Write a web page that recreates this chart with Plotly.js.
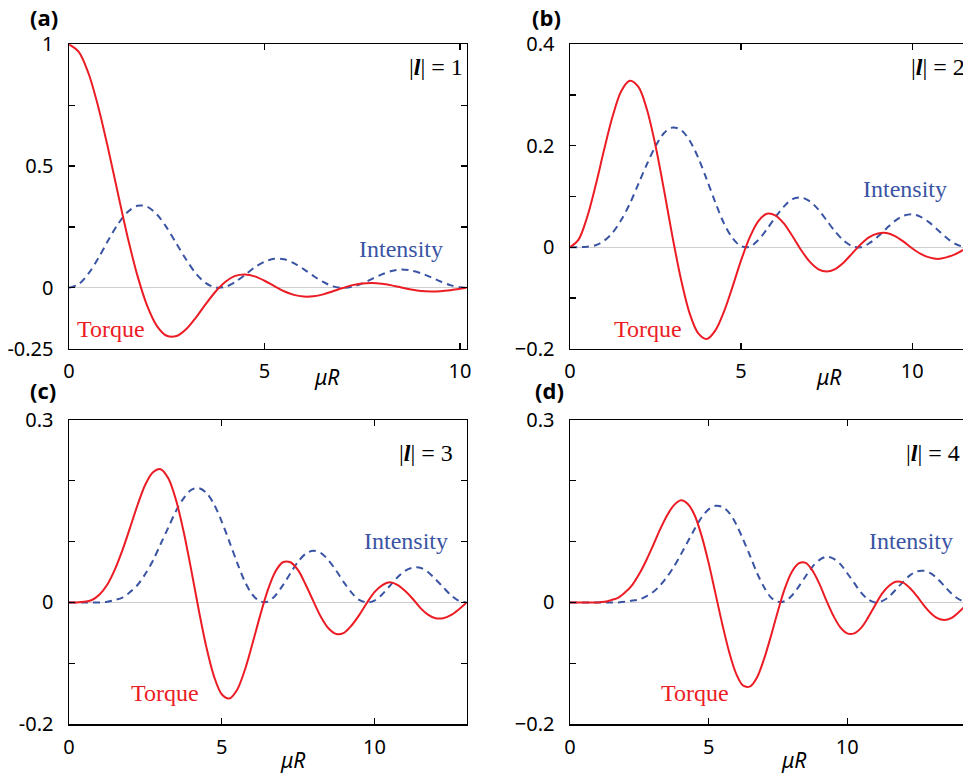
<!DOCTYPE html>
<html>
<head>
<meta charset="utf-8">
<script src="https://cdn.plot.ly/plotly-3.0.1.min.js"></script>
<style>html,body{margin:0;padding:0;background:#fff;overflow:hidden;width:963px;height:779px;}#chart{width:972px;height:779px;}</style>
</head>
<body>
<div id="chart"></div>
<script>
// ---------- data ----------
// (a) |l| = 1
const xA = [0,0.25,0.5,0.75,1,1.25,1.5,1.75,2,2.25,2.5,2.75,3,3.25,3.5,3.75,4,4.25,4.5,4.75,5,5.25,5.5,5.75,6,6.25,6.5,6.75,7,7.25,7.5,7.75,8,8.25,8.5,8.75,9,9.25,9.5,9.75,10,10.17];
const intensityA = [0,0.015,0.059,0.122,0.194,0.261,0.311,0.337,0.333,0.301,0.247,0.181,0.115,0.058,0.019,0.001,0.004,0.024,0.053,0.084,0.107,0.119,0.117,0.101,0.077,0.049,0.024,0.006,0.000,0.005,0.018,0.037,0.055,0.069,0.075,0.071,0.060,0.044,0.026,0.011,0.002,0];
const torqueA = [1,0.969,0.880,0.742,0.572,0.388,0.208,0.050,-0.074,-0.157,-0.197,-0.198,-0.169,-0.121,-0.066,-0.015,0.025,0.049,0.055,0.047,0.029,0.007,-0.014,-0.029,-0.036,-0.035,-0.027,-0.014,-0.001,0.011,0.018,0.020,0.017,0.010,0.001,-0.007,-0.013,-0.015,-0.014,-0.010,-0.004,0];

// (b) |l| = 2
const xB = [0,0.25,0.5,0.75,1,1.25,1.5,1.75,2,2.25,2.5,2.75,3,3.25,3.5,3.75,4,4.25,4.5,4.75,5,5.25,5.5,5.75,6,6.25,6.5,6.75,7,7.25,7.5,7.75,8,8.25,8.5,8.75,9,9.25,9.5,9.75,10,10.25,10.5,10.75,11,11.25,11.5,11.75];
const intensityB = [0,0.000,0.001,0.004,0.013,0.029,0.054,0.086,0.125,0.164,0.199,0.225,0.236,0.231,0.210,0.176,0.133,0.088,0.047,0.018,0.002,0.001,0.014,0.035,0.059,0.080,0.095,0.098,0.091,0.075,0.053,0.031,0.013,0.002,0.000,0.008,0.021,0.037,0.052,0.062,0.065,0.060,0.049,0.034,0.019,0.007,0.001,0.001];
const torqueB = [0,0.015,0.059,0.122,0.193,0.259,0.308,0.328,0.316,0.271,0.200,0.112,0.019,-0.065,-0.131,-0.170,-0.181,-0.164,-0.127,-0.078,-0.026,0.019,0.051,0.066,0.063,0.047,0.022,-0.005,-0.028,-0.043,-0.048,-0.043,-0.030,-0.012,0.006,0.020,0.027,0.028,0.022,0.011,-0.002,-0.013,-0.020,-0.023,-0.020,-0.014,-0.005,0.005];

// (c) |l| = 3
const xC = [0,0.25,0.5,0.75,1,1.25,1.5,1.75,2,2.25,2.5,2.75,3,3.25,3.5,3.75,4,4.25,4.5,4.75,5,5.25,5.5,5.75,6,6.25,6.5,6.75,7,7.25,7.5,7.75,8,8.25,8.5,8.75,9,9.25,9.5,9.75,10,10.25,10.5,10.75,11,11.25,11.5,11.75,12,12.25,12.5,12.75,13.02];
const intensityC = [0,0,0,0,0,0.001,0.004,0.008,0.017,0.029,0.047,0.069,0.096,0.123,0.150,0.171,0.185,0.188,0.180,0.161,0.133,0.100,0.066,0.035,0.013,0.002,0.001,0.011,0.028,0.048,0.067,0.080,0.085,0.081,0.069,0.052,0.033,0.016,0.004,0.000,0.003,0.013,0.027,0.041,0.052,0.057,0.057,0.050,0.038,0.025,0.012,0.003,0];
const torqueC = [0,0,0.001,0.004,0.013,0.029,0.054,0.086,0.123,0.161,0.194,0.214,0.219,0.204,0.169,0.117,0.054,-0.013,-0.074,-0.122,-0.151,-0.158,-0.144,-0.112,-0.069,-0.023,0.019,0.050,0.066,0.066,0.053,0.029,0.002,-0.024,-0.043,-0.052,-0.050,-0.038,-0.021,-0.001,0.017,0.028,0.033,0.029,0.019,0.006,-0.009,-0.020,-0.026,-0.026,-0.021,-0.012,0];

// (d) |l| = 4
const xD = [0,0.25,0.5,0.75,1,1.25,1.5,1.75,2,2.25,2.5,2.75,3,3.25,3.5,3.75,4,4.25,4.5,4.75,5,5.25,5.5,5.75,6,6.25,6.5,6.75,7,7.25,7.5,7.75,8,8.25,8.5,8.75,9,9.25,9.5,9.75,10,10.25,10.5,10.75,11,11.25,11.5,11.75,12,12.25,12.5,12.75,13,13.25,13.5,13.75,14,14.25,14.5];
const intensityD = [0,0,0,0,0,0,0,0,0.001,0.003,0.005,0.010,0.017,0.028,0.042,0.059,0.079,0.100,0.121,0.140,0.153,0.159,0.157,0.147,0.128,0.103,0.076,0.048,0.025,0.008,0.001,0.002,0.011,0.026,0.043,0.059,0.070,0.075,0.072,0.063,0.048,0.032,0.016,0.005,0.000,0.002,0.009,0.021,0.033,0.044,0.051,0.052,0.048,0.039,0.027,0.015,0.006,0.001,0.001];
const torqueD = [0,0,0,0,0,0.001,0.004,0.008,0.017,0.029,0.047,0.069,0.094,0.120,0.143,0.160,0.168,0.162,0.143,0.109,0.065,0.014,-0.037,-0.083,-0.118,-0.137,-0.138,-0.123,-0.093,-0.055,-0.014,0.023,0.050,0.064,0.065,0.052,0.030,0.003,-0.022,-0.041,-0.051,-0.051,-0.042,-0.025,-0.005,0.014,0.027,0.034,0.033,0.024,0.011,-0.004,-0.017,-0.026,-0.029,-0.026,-0.017,-0.006,0.006];

// tick labels and texts
const xTickVals = [0,5,10];
const xTickText = ['0','5','10'];
const yTickValsA = [-0.25,0,0.25,0.5,0.75,1];
const yTickTextA = ['-0.25','0','','0.5','','1'];
const yTickValsB = [-0.2,-0.1,0,0.1,0.2,0.3,0.4];
const yTickTextB = ['\u22120.2','','0','','0.2','','0.4'];
const yTickValsC = [-0.2,-0.1,0,0.1,0.2,0.3];
const yTickTextC = ['-0.2','','0','','','0.3'];
const yTickTextD = ['\u22120.2','','0','','','0.3'];
const panelLabels = ['(a)','(b)','(c)','(d)'];
const orderLabels = ['1','2','3','4'];
const intensityLabel = 'Intensity';
const torqueLabel = 'Torque';
const axisLabel = '\u03bcR';

// ---------- styling ----------
const RED = '#ec1c24';
const BLUE = '#3a54a4';
const W = 972, H = 779;   // page is 963 wide: the right edge is cropped like the reference
const px = v => v / W;
const py = v => 1 - v / H;

function torqueTrace(x, y, xa, ya) {
  return {x: x, y: y, xaxis: xa, yaxis: ya, type: 'scatter', mode: 'lines',
    line: {color: RED, width: 2, shape: 'spline', smoothing: 0.9}, hoverinfo: 'skip'};
}
function intensityTrace(x, y, xa, ya) {
  return {x: x, y: y, xaxis: xa, yaxis: ya, type: 'scatter', mode: 'lines',
    line: {color: BLUE, width: 2, dash: '7px,5px', shape: 'spline', smoothing: 0.9}, hoverinfo: 'skip'};
}

const traces = [
  intensityTrace(xA, intensityA, 'x', 'y'), torqueTrace(xA, torqueA, 'x', 'y'),
  intensityTrace(xB, intensityB, 'x2', 'y2'), torqueTrace(xB, torqueB, 'x2', 'y2'),
  intensityTrace(xC, intensityC, 'x3', 'y3'), torqueTrace(xC, torqueC, 'x3', 'y3'),
  intensityTrace(xD, intensityD, 'x4', 'y4'), torqueTrace(xD, torqueD, 'x4', 'y4')
];

const tickFont = {family: 'Noto Sans, Open Sans, sans-serif', size: 20, color: '#000'};
function xAxis(domain, range, anchor) {
  return {domain: domain, range: range, anchor: anchor, showline: true, linecolor: '#000', linewidth: 1.5,
    mirror: 'allticks', ticks: 'inside', ticklen: 6, tickwidth: 1.2, tickcolor: '#000',
    showgrid: false, zeroline: false, tickmode: 'array', tickvals: xTickVals, ticktext: xTickText,
    tickfont: tickFont, ticklabelstandoff: 4, fixedrange: true};
}
function yAxis(domain, range, anchor, vals, text) {
  return {domain: domain, range: range, anchor: anchor, showline: true, linecolor: '#000', linewidth: 1.5,
    mirror: 'allticks', ticks: 'inside', ticklen: 6, tickwidth: 1.2, tickcolor: '#000',
    showgrid: false, zeroline: true, zerolinecolor: '#cfcfcf', zerolinewidth: 1.2,
    tickmode: 'array', tickvals: vals, ticktext: text,
    tickfont: tickFont, ticklabelstandoff: 10, fixedrange: true};
}

const xDomL = [px(69), px(466.7)];
const xDomR = [px(570), 1];
const yDomT = [py(348.7), py(44.3)];
const yDomB = [py(724), py(420)];

const annotations = [];
function ann(text, x, y, xanchor, font) {
  annotations.push({text: text, x: px(x), y: py(y), xref: 'paper', yref: 'paper',
    xanchor: xanchor, yanchor: 'middle', showarrow: false, font: font});
}
const boldFont = {family: 'Open Sans, Noto Sans, sans-serif', size: 22, color: '#000'};
const serif = (c) => ({family: 'Liberation Serif, Times New Roman, serif', size: 24, color: c});
const ordFont = {family: 'Liberation Serif, Times New Roman, serif', size: 24, color: '#000'};
const muFont = {family: 'Noto Sans, sans-serif', size: 21, color: '#000'};

// panel labels
ann('<b>' + panelLabels[0] + '</b>', 28, 17, 'left', boldFont);
ann('<b>' + panelLabels[1] + '</b>', 530, 17, 'left', boldFont);
ann('<b>' + panelLabels[2] + '</b>', 28, 390, 'left', boldFont);
ann('<b>' + panelLabels[3] + '</b>', 533, 390, 'left', boldFont);
// |l| labels
const ordText = n => '|<b><i>l</i></b>| = ' + n;
ann(ordText(orderLabels[0]), 407, 67, 'left', ordFont);
ann(ordText(orderLabels[1]), 909, 67, 'left', ordFont);
ann(ordText(orderLabels[2]), 397, 453, 'left', ordFont);
ann(ordText(orderLabels[3]), 904, 453, 'left', ordFont);
// series labels
ann(intensityLabel, 357, 249, 'left', serif(BLUE));
ann(intensityLabel, 861, 189, 'left', serif(BLUE));
ann(intensityLabel, 362, 541, 'left', serif(BLUE));
ann(intensityLabel, 867, 541, 'left', serif(BLUE));
ann(torqueLabel, 75, 329, 'left', serif(RED));
ann(torqueLabel, 612, 329, 'left', serif(RED));
ann(torqueLabel, 129, 693, 'left', serif(RED));
ann(torqueLabel, 659, 693, 'left', serif(RED));
// axis titles
ann('<i>' + axisLabel + '</i>', 326, 377, 'center', muFont);
ann('<i>' + axisLabel + '</i>', 828, 377, 'center', muFont);
ann('<i>' + axisLabel + '</i>', 292, 760, 'center', muFont);
ann('<i>' + axisLabel + '</i>', 793, 760, 'center', muFont);

const layout = {
  width: W, height: H, margin: {l: 0, r: 0, t: 0, b: 0, pad: 0},
  paper_bgcolor: '#fff', plot_bgcolor: '#fff', showlegend: false,
  xaxis:  xAxis(xDomL, [0, 10.17], 'y'),
  yaxis:  yAxis(yDomT, [-0.25, 1], 'x', yTickValsA, yTickTextA),
  xaxis2: xAxis(xDomR, [0, 11.75], 'y2'),
  yaxis2: yAxis(yDomT, [-0.2, 0.4], 'x2', yTickValsB, yTickTextB),
  xaxis3: xAxis(xDomL, [0, 13.02], 'y3'),
  yaxis3: yAxis(yDomB, [-0.2, 0.3], 'x3', yTickValsC, yTickTextC),
  xaxis4: xAxis(xDomR, [0, 14.5], 'y4'),
  yaxis4: yAxis(yDomB, [-0.2, 0.3], 'x4', yTickValsC, yTickTextD),
  annotations: annotations
};

Plotly.newPlot('chart', traces, layout, {staticPlot: true, displayModeBar: false});
</script>
</body>
</html>
